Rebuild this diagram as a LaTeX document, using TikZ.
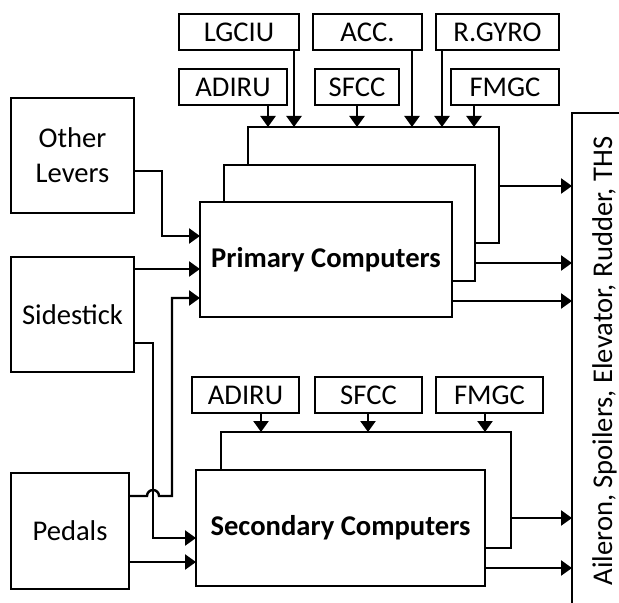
\documentclass[tikz,border=0pt]{standalone}
\usepackage{fontspec}
\setmainfont{Carlito}
\usetikzlibrary{arrows.meta}
\newcommand\dfont{\fontsize{28.7}{35}\selectfont}
\begin{document}
\begin{tikzpicture}[x=1bp,y=-1bp,
  lw/.style={line width=2.4bp},
  box/.style={draw, lw, fill=white, inner sep=0pt, outer sep=0pt, anchor=north west, font=\dfont},
  bigbox/.style={box, font=\dfont\bfseries},
  arr/.style={lw, -{Triangle[length=11bp,width=15bp]}}]
\useasboundingbox (0,0) rectangle (619,603);

% primary input boxes
\node[box, minimum width=120bp, minimum height=36bp] (lgciu) at (179,14) {LGCIU};
\node[box, minimum width=109bp, minimum height=36bp] (acc) at (313,14) {ACC.};
\node[box, minimum width=123bp, minimum height=36bp] (rgyro) at (436,14) {R.GYRO};
\node[box, minimum width=108bp, minimum height=36bp] (adiru1) at (179,69) {ADIRU};
\node[box, minimum width=84bp, minimum height=36bp] (sfcc1) at (315,69) {SFCC};
\node[box, minimum width=108bp, minimum height=36bp] (fmgc1) at (451,69) {FMGC};

% primary stack
\node[box, minimum width=251bp, minimum height=116bp] (p3) at (248,127) {};
\node[box, minimum width=251bp, minimum height=116bp] (p2) at (224,165) {};
\node[bigbox, minimum width=252bp, minimum height=115bp] (p1) at (200,202) {Primary Computers};

% secondary input boxes
\node[box, minimum width=107bp, minimum height=36bp] (adiru2) at (192,377) {ADIRU};
\node[box, minimum width=107bp, minimum height=36bp] (sfcc2) at (315,377) {SFCC};
\node[box, minimum width=107bp, minimum height=36bp] (fmgc2) at (436,377) {FMGC};

% secondary stack
\node[box, minimum width=290bp, minimum height=116bp] (s2) at (221,432) {};
\node[bigbox, minimum width=289bp, minimum height=116bp] (s1) at (196,470) {Secondary Computers};

% left boxes
\node[box, minimum width=123bp, minimum height=115bp, align=center] (ol) at (11,98) {Other\\Levers};
\node[box, minimum width=123bp, minimum height=115bp] (ss) at (11,257) {Sidestick};
\node[box, minimum width=118bp, minimum height=116bp] (pd) at (11,473) {Pedals};

% actuator bar
\coordinate (barT) at (572,113);
\coordinate (barB) at (572,603);
\coordinate (barR) at (619,113);
\draw[lw] (barB) -- (barT) -- (barR);
\node[rotate=90, anchor=base, font=\dfont, inner sep=0pt] (act) at (612,361) {Aileron, Spoilers, Elevator, Rudder, THS};

% columns for input arrows
\coordinate (xa) at (268,0);
\coordinate (xb) at (294,0);
\coordinate (xc) at (357,0);
\coordinate (xd) at (412,0);
\coordinate (xe) at (442,0);
\coordinate (xf) at (474,0);
\coordinate (xg) at (261,0);
\coordinate (xh) at (368,0);
\coordinate (xi) at (485,0);

\draw[arr] (xa |- adiru1.south) -- (xa |- p3.north);
\draw[arr] (xb |- lgciu.south) -- (xb |- p3.north);
\draw[arr] (xc |- sfcc1.south) -- (xc |- p3.north);
\draw[arr] (xd |- acc.south) -- (xd |- p3.north);
\draw[arr] (xe |- rgyro.south) -- (xe |- p3.north);
\draw[arr] (xf |- fmgc1.south) -- (xf |- p3.north);
\draw[arr] (xg |- adiru2.south) -- (xg |- s2.north);
\draw[arr] (xh |- sfcc2.south) -- (xh |- s2.north);
\draw[arr] (xi |- fmgc2.south) -- (xi |- s2.north);

% outputs
\coordinate (y1) at (0,186);
\coordinate (y2) at (0,263);
\coordinate (y3) at (0,301);
\coordinate (y4) at (0,518);
\coordinate (y5) at (0,568);
\draw[arr] (p3.east |- y1) -- (barT |- y1);
\draw[arr] (p2.east |- y2) -- (barT |- y2);
\draw[arr] (p1.east |- y3) -- (barT |- y3);
\draw[arr] (s2.east |- y4) -- (barT |- y4);
\draw[arr] (s1.east |- y5) -- (barT |- y5);

% left inputs
\coordinate (ya) at (0,171);
\coordinate (yb) at (0,236);
\coordinate (yc) at (0,269);
\coordinate (yd) at (0,343);
\coordinate (ye) at (0,538);
\coordinate (yf) at (0,496);
\coordinate (yg) at (0,298);
\coordinate (yh) at (0,562);
\coordinate (k1) at (162,0);
\coordinate (k2) at (153,0);
\coordinate (k3) at (172,0);
\coordinate (hop) at (147,0);

\draw[arr] (ol.east |- ya) -| (k1 |- yb) -- (p1.west |- yb);
\draw[arr] (ss.east |- yc) -- (p1.west |- yc);
\draw[arr] (ss.east |- yd) -| (k2 |- ye) -- (s1.west |- ye);
\draw[arr] (pd.east |- yf) -- (hop |- yf) arc[start angle=180, end angle=0, radius=6bp] -| (k3 |- yg) -- (p1.west |- yg);
\draw[arr] (pd.east |- yh) -- (s1.west |- yh);
\end{tikzpicture}
\end{document}
